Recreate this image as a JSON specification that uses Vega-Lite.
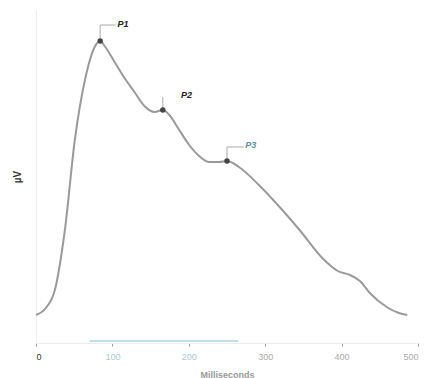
{
  "$schema": "https://vega.github.io/schema/vega-lite/v6.json",
  "width": 382,
  "height": 333,
  "autosize": "none",
  "padding": {"left": 36, "top": 10, "right": 10, "bottom": 35},
  "background": "white",
  "config": {"view": {"stroke": null}, "font": "Liberation Sans"},
  "datasets": {
    "curve": [
      {"ms": 0, "v": 28}, {"ms": 11.7, "v": 34}, {"ms": 24.7, "v": 53}, {"ms": 37.8, "v": 113},
      {"ms": 50.8, "v": 203}, {"ms": 63.8, "v": 262}, {"ms": 76.8, "v": 296}, {"ms": 84, "v": 302},
      {"ms": 89.8, "v": 297}, {"ms": 102.9, "v": 281}, {"ms": 115.9, "v": 265}, {"ms": 128.9, "v": 251},
      {"ms": 141.9, "v": 237}, {"ms": 155, "v": 231}, {"ms": 166, "v": 233}, {"ms": 174.5, "v": 228},
      {"ms": 187.5, "v": 213}, {"ms": 200.5, "v": 198}, {"ms": 213.5, "v": 187}, {"ms": 226.6, "v": 181},
      {"ms": 239.6, "v": 181}, {"ms": 250, "v": 182}, {"ms": 265.6, "v": 176}, {"ms": 291.7, "v": 158},
      {"ms": 317.7, "v": 137}, {"ms": 345, "v": 113}, {"ms": 376, "v": 84}, {"ms": 395, "v": 72},
      {"ms": 411, "v": 68}, {"ms": 424, "v": 62}, {"ms": 437, "v": 50}, {"ms": 459, "v": 36},
      {"ms": 475, "v": 30}, {"ms": 486, "v": 28}
    ],
    "peaks": [
      {"ms": 84, "v": 302, "label": "P1", "lx": 114, "ly": 319, "c": "#222222"},
      {"ms": 166, "v": 233, "label": "P2", "lx": 197, "ly": 248, "c": "#222222"},
      {"ms": 250, "v": 182, "label": "P3", "lx": 281, "ly": 198, "c": "#5e8fa0"}
    ],
    "leaders": [
      {"x": 84, "x2": 84, "y": 302, "y2": 318},
      {"x": 84, "x2": 104, "y": 318, "y2": 318},
      {"x": 166, "x2": 166, "y": 233, "y2": 246},
      {"x": 250, "x2": 250, "y": 182, "y2": 196},
      {"x": 250, "x2": 272, "y": 196, "y2": 196}
    ],
    "band": [{"x": 70, "x2": 265, "y": 2}]
  },
  "layer": [
    {
      "data": {"name": "band"},
      "mark": {"type": "rule", "color": "#bfdfea", "strokeWidth": 2},
      "encoding": {
        "x": {"field": "x", "type": "quantitative"},
        "x2": {"field": "x2"},
        "y": {"field": "y", "type": "quantitative"}
      }
    },
    {
      "data": {"name": "curve"},
      "mark": {"type": "line", "interpolate": "monotone", "color": "#9a9a9a", "strokeWidth": 2},
      "encoding": {
        "x": {
          "field": "ms", "type": "quantitative",
          "scale": {"domain": [0, 500], "nice": false},
          "axis": {
            "values": [0, 100, 200, 300, 400, 500],
            "title": "Milliseconds",
            "titleFontSize": 9, "titleColor": "#999999", "titleFontWeight": "bold", "titlePadding": 9,
            "labelFontSize": 9, "labelPadding": 6,
            "labelColor": {"expr": "datum.value == 0 ? '#333333' : datum.value <= 200 ? '#a8c8d2' : '#aaaaaa'"},
            "domainColor": "#eeeeee", "tickColor": "#999999", "tickSize": 3, "grid": false
          }
        },
        "y": {
          "field": "v", "type": "quantitative",
          "scale": {"domain": [0, 333], "nice": false},
          "axis": {
            "title": "µV", "titleFontSize": 10, "titleColor": "#333333", "titleFontWeight": "bold",
            "titlePadding": 14, "labels": false, "ticks": false, "grid": false,
            "domainColor": "#eeeeee"
          }
        }
      }
    },
    {
      "data": {"name": "leaders"},
      "mark": {"type": "rule", "color": "#aaaaaa", "strokeWidth": 1},
      "encoding": {
        "x": {"field": "x", "type": "quantitative"},
        "x2": {"field": "x2"},
        "y": {"field": "y", "type": "quantitative"},
        "y2": {"field": "y2"}
      }
    },
    {
      "data": {"name": "peaks"},
      "mark": {"type": "point", "filled": true, "size": 30, "color": "#444444", "opacity": 1},
      "encoding": {
        "x": {"field": "ms", "type": "quantitative"},
        "y": {"field": "v", "type": "quantitative"}
      }
    },
    {
      "data": {"name": "peaks"},
      "mark": {"type": "text", "fontSize": 9, "fontWeight": "bold", "fontStyle": "italic", "align": "center", "baseline": "middle"},
      "encoding": {
        "x": {"field": "lx", "type": "quantitative"},
        "y": {"field": "ly", "type": "quantitative"},
        "text": {"field": "label"},
        "color": {"field": "c", "type": "nominal", "scale": null}
      }
    }
  ]
}
